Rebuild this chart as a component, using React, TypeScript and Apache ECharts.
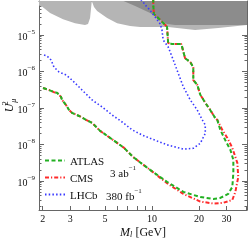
import React, { useEffect, useRef } from "react";
import * as echarts from "echarts";

// ---- data (mass in GeV, U^2 dimensionless) ----
const massTicks = [2, 3, 4, 5, 6, 7, 8, 9, 10, 20, 30, 40];
const massLabels = [2, 3, 5, 10, 20, 30];
const decadeExps = [-9, -8, -7, -6, -5];

const atlasM = [2.01, 2.19, 2.36, 2.47, 2.62, 2.66, 2.82, 2.95, 3.08, 3.42, 3.79, 4.14, 4.66, 5.99, 6.64, 7.58, 9.74, 12.5, 15.9, 20.4, 24.7, 27.4, 30.8, 32.7, 33.2, 33.2, 31.8, 29.5, 27.4, 26.2, 25.4, 23.6, 22.0, 20.4, 19.5, 18.4, 18.4, 17.6, 16.3, 15.6, 15.4, 13.5, 12.7, 12.5, 12.2, 11.6, 10.8, 10.3, 10.2, 10.2];
const atlasU = [3.5e-7, 3.1e-7, 2.7e-7, 2.6e-7, 2.0e-7, 1.65e-7, 1.2e-7, 8.8e-8, 7.3e-8, 6.0e-8, 4.7e-8, 3.9e-8, 2.35e-8, 1.1e-8, 8.0e-9, 4.5e-9, 2.0e-9, 9.4e-10, 5.0e-10, 3.6e-10, 3.2e-10, 3.4e-10, 4.4e-10, 6.8e-10, 1.65e-9, 3.75e-9, 7.0e-9, 1.3e-8, 2.5e-8, 4.7e-8, 5.3e-8, 8.8e-8, 1.36e-7, 2.3e-7, 4.3e-7, 5.8e-7, 1.3e-6, 1.8e-6, 2.3e-6, 4.7e-6, 5.6e-6, 5.6e-6, 6.0e-6, 1.65e-5, 1.87e-5, 2.3e-5, 3.1e-5, 3.75e-5, 6.6e-5, 1.0e-4];

const cmsM = [2.01, 2.19, 2.36, 2.47, 2.62, 2.66, 2.82, 2.95, 3.08, 3.42, 3.79, 4.14, 4.66, 5.99, 6.64, 7.58, 9.74, 12.5, 15.9, 20.4, 24.7, 28.6, 32.7, 34.2, 35.7, 35.2, 32.7, 30.4, 28.2, 26.2, 25.4, 23.6, 22.0, 20.4, 19.5, 18.4, 18.4, 17.6, 16.3, 15.6, 15.4, 13.5, 12.7, 12.5, 12.2, 11.6, 10.8, 10.3, 10.2, 10.2];
const cmsU = [3.5e-7, 3.1e-7, 2.7e-7, 2.6e-7, 2.0e-7, 1.65e-7, 1.2e-7, 8.8e-8, 7.3e-8, 6.0e-8, 4.7e-8, 3.9e-8, 2.35e-8, 1.1e-8, 8.0e-9, 4.5e-9, 2.0e-9, 8.6e-10, 4.4e-10, 2.7e-10, 2.4e-10, 2.5e-10, 3.0e-10, 5.0e-10, 1.28e-9, 3.1e-9, 8.0e-9, 1.5e-8, 2.5e-8, 4.7e-8, 5.3e-8, 8.8e-8, 1.36e-7, 2.3e-7, 4.3e-7, 5.8e-7, 1.3e-6, 1.8e-6, 2.3e-6, 4.7e-6, 5.6e-6, 5.6e-6, 6.0e-6, 1.65e-5, 1.87e-5, 2.3e-5, 3.1e-5, 3.75e-5, 6.6e-5, 1.0e-4];

const lhcbM = [2.04, 2.13, 2.26, 2.36, 2.54, 2.82, 3.08, 3.57, 4.14, 4.80, 5.56, 6.45, 7.47, 8.66, 9.74, 12.5, 15.9, 18.4, 20.4, 21.95, 21.95, 21.0, 19.5, 17.6, 15.9, 14.7, 13.7, 12.7, 11.8, 11.6, 11.3, 10.5, 9.89, 9.46, 9.05, 8.79, 8.5];
const lhcbU = [2.8e-6, 2.65e-6, 2.06e-6, 1.32e-6, 9.7e-7, 8.0e-7, 5.8e-7, 3.1e-7, 1.65e-7, 1.06e-7, 6.4e-8, 4.1e-8, 2.5e-8, 1.8e-8, 1.47e-8, 9.7e-9, 7.4e-9, 7.8e-9, 1.07e-8, 2.0e-8, 3.4e-8, 4.7e-8, 8.8e-8, 1.65e-7, 3.75e-7, 9.1e-7, 2.06e-6, 4.7e-6, 7.3e-6, 1.36e-5, 2.0e-5, 3.1e-5, 4.3e-5, 5.5e-5, 6.6e-5, 8.0e-5, 9.1e-5];

// excluded regions (boundaries, filled up to the top of the plot)
const lightM = [1.894, 1.98, 2.23, 2.70, 3.22, 3.73, 3.90, 4.02, 4.08, 4.12, 4.17, 4.26, 4.46, 5.17, 5.99, 7.25, 8.41, 12.7, 18.9, 26.6, 40.8];
const lightU = [6.4e-5, 6.0e-5, 4.0e-5, 2.7e-5, 2.1e-5, 1.87e-5, 2.0e-5, 2.9e-5, 5.5e-5, 8.2e-5, 7.5e-5, 5.8e-5, 4.5e-5, 2.9e-5, 2.1e-5, 1.76e-5, 1.65e-5, 1.65e-5, 1.36e-5, 1.55e-5, 1.87e-5];
const darkM = [6.54, 7.81, 9.74, 11.29, 12.5, 14.1, 40.8];
const darkU = [8.6e-5, 6.2e-5, 4.0e-5, 2.56e-5, 2.0e-5, 1.87e-5, 1.87e-5];

const X_MIN = 1.894;
const X_MAX = 40.6;
const Y_MIN = 1.59e-10;
const Y_MAX = 8.5e-5;

const FONT = "'Liberation Serif', 'DejaVu Serif', serif";
const L = Math.log10;
const pts = (m: number[], u: number[]) => m.map((v, i) => [L(v), L(u[i])]);

export default function App() {
  const ref = useRef<HTMLDivElement>(null);
  useEffect(() => {
    if (!ref.current) return;
    const chart = echarts.init(ref.current, null, { renderer: "svg" });
    const xmin = L(X_MIN), xmax = L(X_MAX), ymin = L(Y_MIN), ymax = L(Y_MAX);
    const majorY = decadeExps.slice();
    const minorY: number[] = [];
    for (let n = -10; n <= -4; n++) for (let k = 2; k <= 9; k++) {
      const v = n + L(k);
      if (v > ymin && v < ymax) minorY.push(v);
    }
    const xt = massTicks.map(L);
    const axisColor = "#666";
    const baseY = (pos: string, show: boolean, ticks: number[], len: number, line: boolean) => ({
      type: "value", position: pos, min: ymin, max: ymax,
      axisLine: { show: line, onZero: false, lineStyle: { color: axisColor, width: 1 } },
      axisTick: { show: true, inside: true, length: len, customValues: ticks, lineStyle: { color: axisColor } },
      axisLabel: show ? {
        show: true, customValues: decadeExps, margin: 4, color: "#111",
        formatter: (v: number) => `{b|10}{s|−${Math.abs(Math.round(v))}}`,
        rich: {
          b: { fontFamily: FONT, fontSize: 10, color: "#111", lineHeight: 13, verticalAlign: "bottom" },
          s: { fontFamily: FONT, fontSize: 7, color: "#111", verticalAlign: "top", lineHeight: 13 },
        },
      } : { show: false },
      splitLine: { show: false },
    });
    const yAxes: any[] = [
      {
        ...baseY("left", true, majorY, 5, true),
        name: "{u|U}{s|2}{m|μ}",
        nameLocation: "middle",
        nameGap: 22,
        nameMoveOverlap: false,
        nameTextStyle: {
          rich: {
            u: { fontFamily: FONT, fontSize: 12, fontStyle: "italic", color: "#111", lineHeight: 16 },
            s: { fontFamily: FONT, fontSize: 8, color: "#111", verticalAlign: "top", lineHeight: 16, width: 1 },
            m: { fontFamily: FONT, fontSize: 8, fontStyle: "italic", color: "#111", verticalAlign: "bottom", lineHeight: 16 },
          },
        },
      },
      baseY("left", false, minorY, 2.5, false),
      baseY("right", false, majorY, 5, true),
      baseY("right", false, minorY, 2.5, false),
    ];
    const xAxes: any[] = [
      {
        type: "value", position: "bottom", min: xmin, max: xmax,
        axisLine: { show: true, onZero: false, lineStyle: { color: axisColor } },
        axisTick: { show: true, inside: true, length: 4, customValues: xt, lineStyle: { color: axisColor } },
        axisLabel: {
          show: true, customValues: massLabels.map(L), margin: 3, color: "#111",
          fontFamily: FONT, fontSize: 10,
          formatter: (v: number) => String(Math.round(Math.pow(10, v))),
        },
        splitLine: { show: false },
        name: "{m|M}{l|l} {g|[GeV]}",
        nameLocation: "middle",
        nameGap: 15,
        nameMoveOverlap: false,
        nameTextStyle: {
          rich: {
            m: { fontFamily: FONT, fontSize: 12, fontStyle: "italic", color: "#111", lineHeight: 13 },
            l: { fontFamily: FONT, fontSize: 8, fontStyle: "italic", color: "#111", verticalAlign: "bottom", lineHeight: 13 },
            g: { fontFamily: FONT, fontSize: 12, color: "#111", lineHeight: 13 },
          },
        },
      },
      {
        type: "value", position: "top", min: xmin, max: xmax,
        axisLine: { show: true, onZero: false, lineStyle: { color: axisColor } },
        axisTick: { show: true, inside: true, length: 4, customValues: xt, lineStyle: { color: axisColor } },
        axisLabel: { show: false },
        splitLine: { show: false },
      },
    ];
    const lineS = (name: string, data: number[][], color: string, type: any, width: number) => ({
      name, type: "line", data, showSymbol: false, symbol: "none",
      lineStyle: { color, type, width }, itemStyle: { color },
      z: 3,
    });
    chart.setOption({
      animation: false,
      grid: { left: 39, right: 2, top: 1, bottom: 30, containLabel: false, outerBoundsMode: "none" },
      xAxis: xAxes,
      yAxis: yAxes,
      legend: {
        data: ["ATLAS", "CMS", "LHCb"],
        orient: "vertical",
        left: 44,
        top: 155,
        padding: 0,
        itemWidth: 20,
        itemHeight: 10,
        itemGap: 6,
        itemStyle: { opacity: 0 },
        textStyle: { fontFamily: FONT, fontSize: 11, color: "#111" },
        selectedMode: false,
      },
      graphic: [
        {
          type: "text", left: 110, top: 164,
          style: {
            text: "{a|3 ab}{s|−1}",
            rich: {
              a: { fontFamily: FONT, fontSize: 11, fill: "#111", lineHeight: 14, verticalAlign: "bottom" },
              s: { fontFamily: FONT, fontSize: 7, fill: "#111", lineHeight: 14, verticalAlign: "top" },
            },
          },
        },
        {
          type: "text", left: 106, top: 187,
          style: {
            text: "{a|380 fb}{s|−1}",
            rich: {
              a: { fontFamily: FONT, fontSize: 11, fill: "#111", lineHeight: 14, verticalAlign: "bottom" },
              s: { fontFamily: FONT, fontSize: 7, fill: "#111", lineHeight: 14, verticalAlign: "top" },
            },
          },
        },
      ],
      series: [
        {
          type: "line", data: pts(lightM, lightU), symbol: "none", showSymbol: false,
          lineStyle: { width: 0 }, areaStyle: { origin: "end", color: "#b5b5b5", opacity: 1 }, z: 1, silent: true,
        },
        {
          type: "line", data: pts(darkM, darkU), symbol: "none", showSymbol: false,
          lineStyle: { width: 0 }, areaStyle: { origin: "end", color: "#8c8c8c", opacity: 1 }, z: 1, silent: true,
        },
        lineS("CMS", pts(cmsM, cmsU), "#ff2a2a", [4, 2, 1.2, 2], 2),
        lineS("ATLAS", pts(atlasM, atlasU), "#22b022", [4, 2.5], 2),
        lineS("LHCb", pts(lhcbM, lhcbU), "#3838ff", [1.5, 2.2], 1.6),
      ],
    });
    return () => chart.dispose();
  }, []);
  return <div ref={ref} style={{ position: "fixed", left: 0, top: 0, width: 249, height: 240 }} />;
}
